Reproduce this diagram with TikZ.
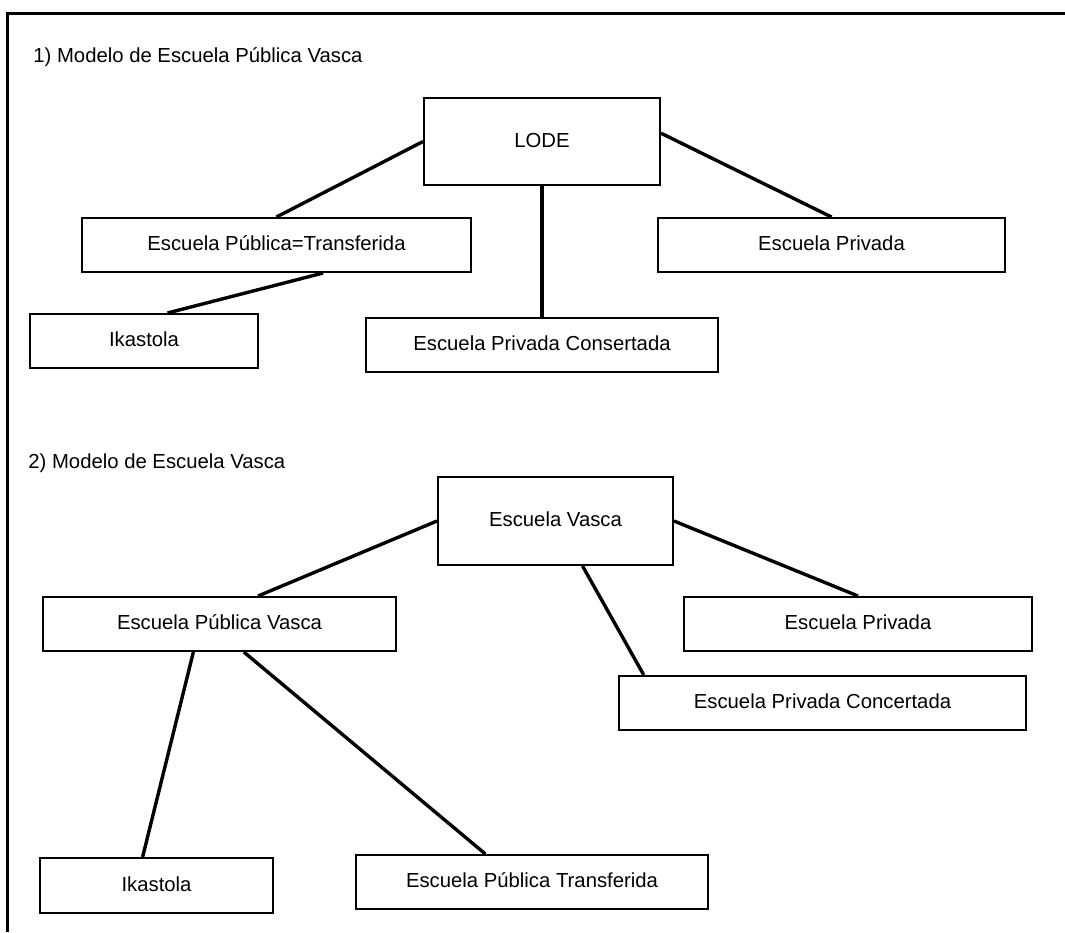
\documentclass[tikz,border=0pt]{standalone}
\usepackage{fontspec}
\setmainfont{Liberation Sans}
\usepackage{tikz}
\usetikzlibrary{calc}
\usetikzlibrary{positioning}
\tikzset{>=latex}
\tikzstyle{box} = [rectangle, draw, line width = 1pt, inner sep = 0, text height = 7.3pt, text depth = 1.5pt, font = \fontsize{10.15}{12}\selectfont]
\tikzstyle{link} = [-, line width = 1.7pt]
\tikzstyle{frame} = [line width = 1.5pt]
\tikzstyle{titulo} = [anchor = base west, inner sep = 0, font = \fontsize{10.15}{12}\selectfont]

\begin{document}
\begin{tikzpicture}[x=0.5pt, y=-0.5pt]
\useasboundingbox (0, 0) rectangle (1065, 932);
\draw [frame] (7, 932) -- (7, 13) -- (1065, 13);
% 1) Modelo de Escuela Publica Vasca
\node [titulo] (t1) at (33, 62) {1) Modelo de Escuela Pública Vasca};
\node [box, minimum width = 118pt, minimum height = 43.5pt] (LODE) at (542, 141.5) {LODE};
\node [box, minimum width = 194.5pt, minimum height = 27pt] (PT) at (276.5, 245) {Escuela Pública=Transferida};
\node [box, minimum width = 173.5pt, minimum height = 27pt] (EP1) at (831.5, 245) {Escuela Privada};
\node [box, minimum width = 114pt, minimum height = 27pt] (Ik1) at (144, 341) {Ikastola};
\node [box, minimum width = 176pt, minimum height = 27pt] (Cons) at (542, 345) {Escuela Privada Consertada};
\draw [link] (LODE.west) to (PT.north);
\draw [link] (LODE.4) to (EP1.north);
\draw [link] (LODE.south) to (Cons.north);
\draw [link] (PT.-31) to (Ik1.50);
% 2) Modelo de Escuela Vasca
\node [titulo] (t2) at (28, 468) {2) Modelo de Escuela Vasca};
\node [box, minimum width = 117.5pt, minimum height = 44pt] (EV) at (555.5, 521) {Escuela Vasca};
\node [box, minimum width = 176.5pt, minimum height = 27pt] (EPV) at (219.5, 624) {Escuela Pública Vasca};
\node [box, minimum width = 174pt, minimum height = 27pt] (EP2) at (858, 624) {Escuela Privada};
\node [box, minimum width = 203.5pt, minimum height = 27pt] (EPC) at (822.5, 703) {Escuela Privada Concertada};
\node [box, minimum width = 116.5pt, minimum height = 27.5pt] (Ik2) at (156.5, 885.5) {Ikastola};
\node [box, minimum width = 176pt, minimum height = 27pt] (EPT) at (532, 882) {Escuela Pública Transferida};
\draw [link] (EV.west) to (EPV.36);
\draw [link] (EV.east) to (EP2.north);
\draw [link] (EV.-59) to ($(EPC.north west)!0.063!(EPC.north east)$);
\draw [link] (EPV.-133) to (Ik2.116);
\draw [link] (EPV.-49) to (EPT.149);
\end{tikzpicture}
\end{document}
